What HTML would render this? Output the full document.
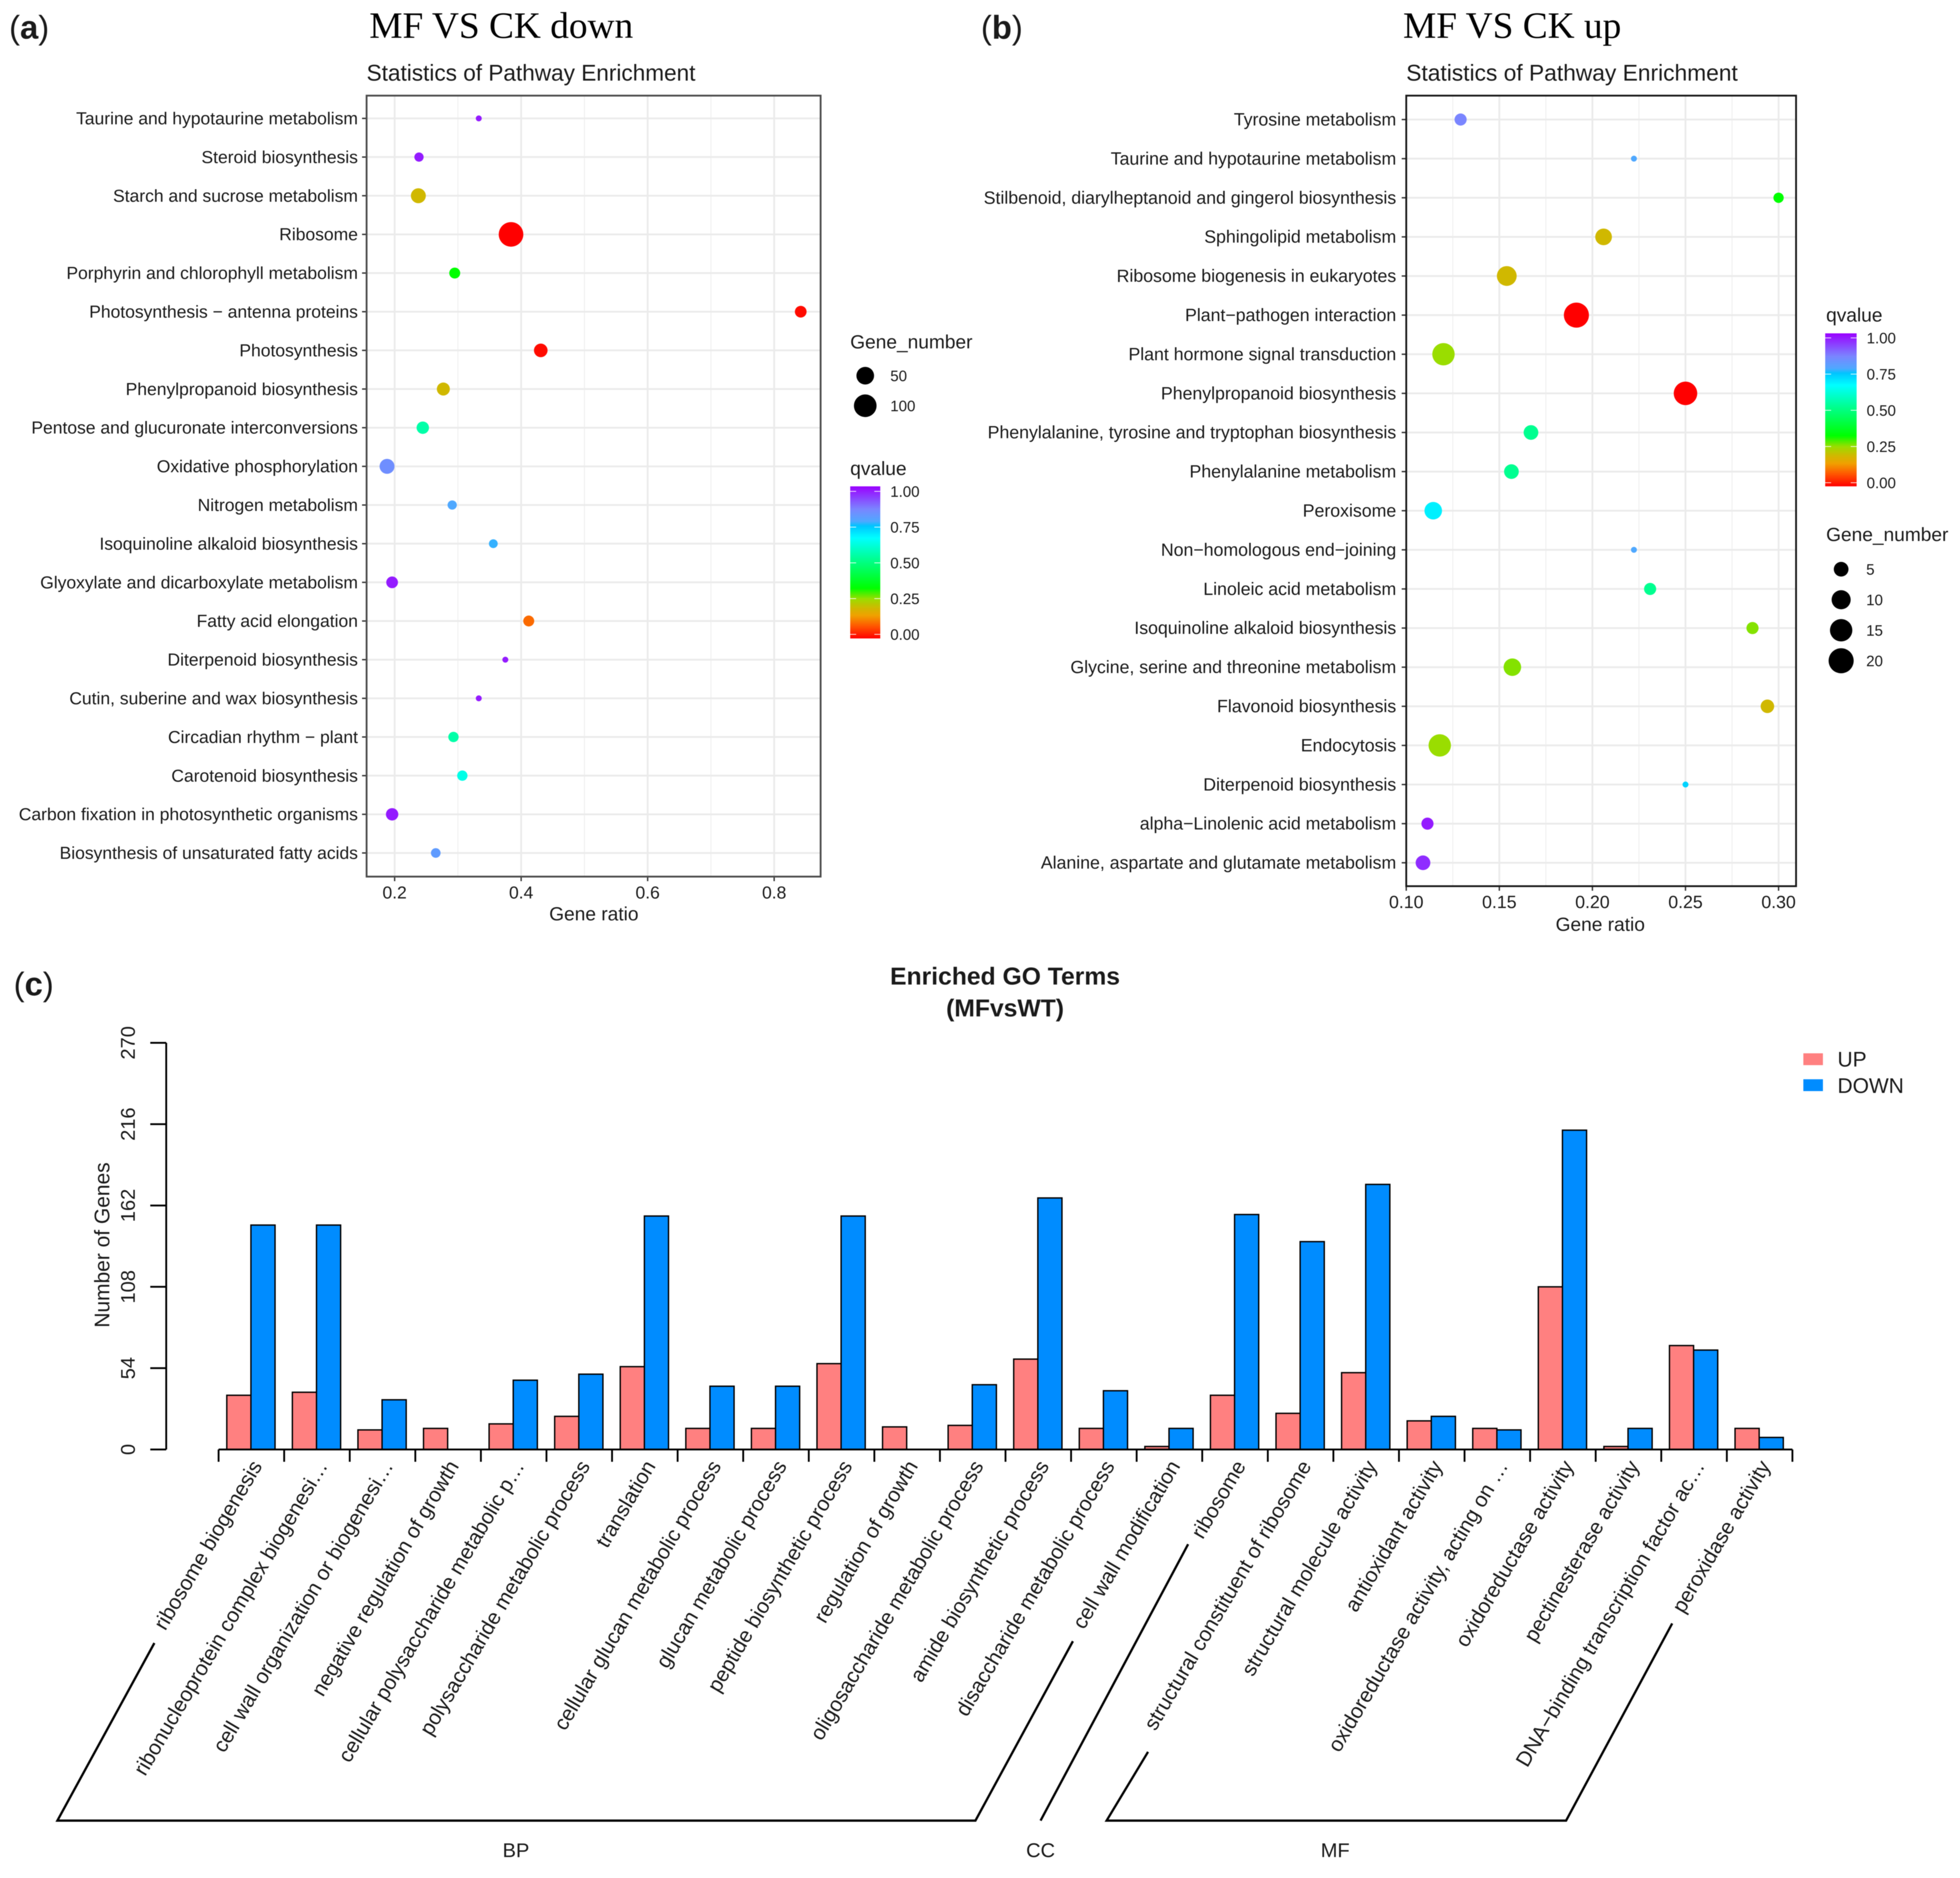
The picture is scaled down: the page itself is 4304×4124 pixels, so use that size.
<!DOCTYPE html>
<html lang="en">
<head>
<meta charset="utf-8">
<title>Pathway enrichment and GO terms</title>
<style>
html,body{margin:0;padding:0;background:#fff;}
svg{display:block;filter:blur(0.8px);}
text{font-family:"Liberation Sans",sans-serif;fill:#1a1a1a;}
.serif{font-family:"Liberation Serif",serif;fill:#000;}
</style>
</head>
<body>
<svg id="fig" xmlns="http://www.w3.org/2000/svg" width="4304" height="4124" viewBox="0 0 4304 4124">
<defs>
<linearGradient id="qgrad" x1="0" y1="1" x2="0" y2="0"></linearGradient>
</defs>
<rect x="0" y="0" width="4304" height="4124" fill="#fff"/>
<text x="20" y="85" font-size="72" fill="#000">(<tspan font-weight="bold">a</tspan>)</text>
<text x="2154" y="85" font-size="72" fill="#000">(<tspan font-weight="bold">b</tspan>)</text>
<text x="30" y="2186" font-size="72" fill="#000">(<tspan font-weight="bold">c</tspan>)</text>
<text class="serif" x="811" y="83" font-size="82">MF VS CK down</text>
<text class="serif" x="3081" y="83" font-size="82">MF VS CK up</text>
<text x="805" y="177" font-size="49.6">Statistics of Pathway Enrichment</text>
<text x="3088" y="177" font-size="50">Statistics of Pathway Enrichment</text>
<g id="panelA"></g>
<g id="panelB"></g>
<text x="1304" y="2021" font-size="42" text-anchor="middle">Gene ratio</text>
<text x="3514" y="2044" font-size="42" text-anchor="middle">Gene ratio</text>
<g id="legendA">
<text x="1867" y="765" font-size="42">Gene_number</text>
<text x="1867" y="1043" font-size="42">qvalue</text>
</g>
<g id="legendB">
<text x="4010" y="706" font-size="42">qvalue</text>
<text x="4010" y="1188" font-size="42">Gene_number</text>
</g>
<text x="2207" y="2162" font-size="54.2" font-weight="bold" text-anchor="middle">Enriched GO Terms</text>
<text x="2207" y="2232" font-size="54.2" font-weight="bold" text-anchor="middle">(MFvsWT)</text>
<text x="0" y="0" font-size="46" text-anchor="middle" transform="translate(240,2734) rotate(-90)">Number of Genes</text>
<g id="panelC"></g>
<g>
<rect x="3960" y="2313" width="43" height="26" fill="#ff8080"/>
<text x="4035" y="2342" font-size="46">UP</text>
<rect x="3960" y="2370" width="43" height="26" fill="#008cff"/>
<text x="4035" y="2400" font-size="46">DOWN</text>
</g>
<g fill="none" stroke="#000" stroke-width="5">
<polyline points="339,3608 126,3998 2142,3998 2356,3604"/>
<polyline points="2285,3998 2609,3391"/>
<polyline points="2521,3847 2430,3998 3439,3998 3672,3565"/>
</g>
<text x="1133" y="4078" font-size="44" text-anchor="middle">BP</text>
<text x="2285" y="4078" font-size="44" text-anchor="middle">CC</text>
<text x="2932" y="4078" font-size="44" text-anchor="middle">MF</text>
</svg>
<script>
// Panel (a) data
const aPathways = ["Taurine and hypotaurine metabolism","Steroid biosynthesis","Starch and sucrose metabolism","Ribosome","Porphyrin and chlorophyll metabolism","Photosynthesis − antenna proteins","Photosynthesis","Phenylpropanoid biosynthesis","Pentose and glucuronate interconversions","Oxidative phosphorylation","Nitrogen metabolism","Isoquinoline alkaloid biosynthesis","Glyoxylate and dicarboxylate metabolism","Fatty acid elongation","Diterpenoid biosynthesis","Cutin, suberine and wax biosynthesis","Circadian rhythm − plant","Carotenoid biosynthesis","Carbon fixation in photosynthetic organisms","Biosynthesis of unsaturated fatty acids"];
const aRatio = [0.333,0.2385,0.2375,0.384,0.295,0.842,0.431,0.277,0.2445,0.188,0.291,0.356,0.196,0.412,0.375,0.333,0.293,0.307,0.196,0.265];
const aGenes = [1,5,30,125,10,13,22,19,16,30,5,4,13,10,1,1,8,8,16,6];
const aQvalue = [0.97,0.97,0.2,0,0.33,0.01,0.01,0.2,0.55,0.83,0.77,0.76,0.97,0.1,0.97,0.97,0.55,0.63,0.97,0.8];
const aXTicks = [0.2,0.4,0.6,0.8];
const aXMinor = [0.3,0.5,0.7];
const aSizeLegend = [50,100];

// Panel (b) data
const bPathways = ["Tyrosine metabolism","Taurine and hypotaurine metabolism","Stilbenoid, diarylheptanoid and gingerol biosynthesis","Sphingolipid metabolism","Ribosome biogenesis in eukaryotes","Plant−pathogen interaction","Plant hormone signal transduction","Phenylpropanoid biosynthesis","Phenylalanine, tyrosine and tryptophan biosynthesis","Phenylalanine metabolism","Peroxisome","Non−homologous end−joining","Linoleic acid metabolism","Isoquinoline alkaloid biosynthesis","Glycine, serine and threonine metabolism","Flavonoid biosynthesis","Endocytosis","Diterpenoid biosynthesis","alpha−Linolenic acid metabolism","Alanine, aspartate and glutamate metabolism"];
const bRatio = [0.1292,0.2223,0.30,0.206,0.154,0.1914,0.12,0.25,0.167,0.1565,0.1145,0.2223,0.231,0.286,0.157,0.294,0.118,0.25,0.1114,0.109];
const bGenes = [3,1,2,7,11,20,15,17,5,5,8,1,3,3,8,4,15,1,3,5];
const bQvalue = [0.85,0.77,0.33,0.2,0.2,0,0.26,0,0.52,0.52,0.68,0.77,0.52,0.27,0.27,0.2,0.26,0.72,0.97,0.95];
const bXTicks = [0.10,0.15,0.20,0.25,0.30];
const bXMinor = [0.125,0.175,0.225,0.275];
const bSizeLegend = [5,10,15,20];

// Shared colour legend
const qTicks = [1.00,0.75,0.50,0.25,0.00];

// Panel (c) data
const goTerms = ["ribosome biogenesis","ribonucleoprotein complex biogenesi…","cell wall organization or biogenesi…","negative regulation of growth","cellular polysaccharide metabolic p…","polysaccharide metabolic process","translation","cellular glucan metabolic process","glucan metabolic process","peptide biosynthetic process","regulation of growth","oligosaccharide metabolic process","amide biosynthetic process","disaccharide metabolic process","cell wall modification","ribosome","structural constituent of ribosome","structural molecule activity","antioxidant activity","oxidoreductase activity, acting on …","oxidoreductase activity","pectinesterase activity","DNA−binding transcription factor ac…","peroxidase activity"];
const goUp = [36,38,13,14,17,22,55,14,14,57,15,16,60,14,2,36,24,51,19,14,108,2,69,14];
const goDown = [149,149,33,0,46,50,155,42,42,155,0,43,167,39,14,156,138,176,22,13,212,14,66,8];
const goYTicks = [0,54,108,162,216,270];

const NS = "http://www.w3.org/2000/svg";
function mk(tag, parent, attrs, text) {
  const n = document.createElementNS(NS, tag);
  for (const k in attrs) n.setAttribute(k, attrs[k]);
  if (text !== undefined) n.textContent = text;
  parent.appendChild(n);
  return n;
}

// Colour ramp
const rampPos = [0,0.08,0.15,0.20,0.26,0.33,0.5,0.66,0.74,0.77,0.85,1];
const rampCol = [[255,0,0],[255,85,0],[240,160,0],[208,184,0],[154,221,0],[0,255,0],[0,255,128],[0,255,255],[0,196,255],[79,168,255],[122,133,255],[154,0,255]];
function qColor(q) {
  let i = 0;
  while (i < rampPos.length - 2 && q > rampPos[i + 1]) i++;
  const t = Math.max(0, Math.min(1, (q - rampPos[i]) / (rampPos[i + 1] - rampPos[i])));
  const c = rampCol[i].map((v, j) => Math.round(v + (rampCol[i + 1][j] - v) * t));
  return "rgb(" + c.join(",") + ")";
}
const qg = document.getElementById("qgrad");
rampPos.forEach(function (p) {
  mk("stop", qg, { offset: p, "stop-color": qColor(p) });
});

function drawBubblePanel(root, cfg) {
  const nMax = Math.max.apply(null, cfg.genes);
  const xs = v => cfg.x0 + (v - cfg.v0) * cfg.xScale;
  const ys = i => cfg.rowTop + i * cfg.rowStep;
  cfg.minor.forEach(function (v) {
    const g = mk("line", root, { x1: xs(v), x2: xs(v), y1: cfg.top, y2: cfg.bottom, stroke: "#efefef", "stroke-width": 2 });
    
    
  });
  cfg.ticks.forEach(function (v) {
    const g = mk("line", root, { x1: xs(v), x2: xs(v), y1: cfg.top, y2: cfg.bottom, stroke: "#ebebeb", "stroke-width": 4 });
    
    
    const t = mk("line", root, { x1: xs(v), x2: xs(v), y1: cfg.bottom, y2: cfg.bottom + 10, stroke: "#333", "stroke-width": 3 });
    
    
    const l = mk("text", root, { x: xs(v), y: cfg.bottom + cfg.tickLabelDy, "font-size": cfg.font, "text-anchor": "middle" }, v.toFixed(cfg.digits));
    
    
  });
  cfg.names.forEach(function (name, i) {
    const g = mk("line", root, { x1: cfg.left, x2: cfg.right, y1: ys(i), y2: ys(i), stroke: "#ebebeb", "stroke-width": 4 });
    
    
    const t = mk("line", root, { x1: cfg.left - 10, x2: cfg.left, y1: ys(i), y2: ys(i), stroke: "#333", "stroke-width": 3 });
    
    
    const l = mk("text", root, { x: cfg.labelX, y: ys(i) + 13, "font-size": cfg.font, "text-anchor": "end" }, name);
    
    
  });
  const rScale = n => 6.5 + cfg.rSpan * Math.sqrt((n - 1) / (nMax - 1));
  cfg.names.forEach(function (name, i) {
    const c = mk("circle", root, { cx: xs(cfg.ratio[i]), cy: ys(i), r: rScale(cfg.genes[i]), fill: qColor(cfg.q[i]) });
    
    
  });
  const b = mk("rect", root, { x: cfg.left, y: cfg.top, width: cfg.right - cfg.left, height: cfg.bottom - cfg.top, fill: "none", stroke: cfg.border, "stroke-width": 4 });
  
  
  return rScale;
}

const rA = drawBubblePanel(document.getElementById("panelA"), {
  names: aPathways, ratio: aRatio, genes: aGenes, q: aQvalue, ticks: aXTicks, minor: aXMinor,
  x0: 866.6, v0: 0.2, xScale: 1389, left: 805, right: 1802, top: 210, bottom: 1925,
  rowTop: 260, rowStep: 84.9, labelX: 786, font: 38.4, tickLabelDy: 48, digits: 1, rSpan: 20.5, border: "#4d4d4d"
});
const rB = drawBubblePanel(document.getElementById("panelB"), {
  names: bPathways, ratio: bRatio, genes: bGenes, q: bQvalue, ticks: bXTicks, minor: bXMinor,
  x0: 3088, v0: 0.10, xScale: 4088, left: 3088, right: 3944, top: 210, bottom: 1946,
  rowTop: 262.5, rowStep: 85.9, labelX: 3066, font: 38.9, tickLabelDy: 48, digits: 2, rSpan: 21, border: "#1a1a1a"
});

function drawColorBar(root, x, top, bottom, yTop, yBottom, w, labelX) {
  const bar = mk("rect", root, { x: x, y: top, width: w, height: bottom - top, fill: "url(#qgrad)" });
  
  
  qTicks.forEach(function (v) {
    const y = yBottom + (yTop - yBottom) * v;
    const t1 = mk("line", root, { x1: x, x2: x + 13, y1: y, y2: y, stroke: "#fff", "stroke-width": 1.5 });
    
    
    const t2 = mk("line", root, { x1: x + w - 13, x2: x + w, y1: y, y2: y, stroke: "#fff", "stroke-width": 1.5 });
    
    
    const l = mk("text", root, { x: labelX, y: y + 12, "font-size": 33 }, v.toFixed(2));
    
    
  });
}
const legA = document.getElementById("legendA");
const legB = document.getElementById("legendB");
drawColorBar(legA, 1867, 1068, 1402, 1079, 1393, 66, 1955);
drawColorBar(legB, 4008, 732, 1068, 742, 1060, 69, 4099);

function drawSizeLegend(root, vals, rFn, cx, y0, step, labelX) {
  vals.forEach(function (v, i) {
    const y = y0 + i * step;
    const c = mk("circle", root, { cx: cx, cy: y, r: rFn(v), fill: "#000" });
    
    
    const l = mk("text", root, { x: labelX, y: y + 12, "font-size": 33 }, String(v));
    
    
  });
}
drawSizeLegend(legA, aSizeLegend, rA, 1900, 825, 66, 1955);
drawSizeLegend(legB, bSizeLegend, rB, 4043, 1250, 67, 4098);

// Panel (c)
(function () {
  const root = document.getElementById("panelC");
  const axisX0 = 480, groupW = 144, base = 3183, yAxisX = 365;
  const yScale = v => base - v * (893 / 270);
  const groupX = i => axisX0 + i * groupW;
  goTerms.forEach(function (term, i) {
    const x = groupX(i) + 18;
    const w = 53;
    if (goUp[i] > 0) {
      const u = mk("rect", root, { x: x, y: yScale(goUp[i]), width: w, height: base - yScale(goUp[i]), fill: "#ff8080", stroke: "#000", "stroke-width": 3 });
      
      
    }
    if (goDown[i] > 0) {
      const d = mk("rect", root, { x: x + w, y: yScale(goDown[i]), width: w, height: base - yScale(goDown[i]), fill: "#008cff", stroke: "#000", "stroke-width": 3 });
      
      
    }
    const lx = groupX(i) + groupW / 2 + 25;
    const ly = base + 36;
    const l = mk("text", root, { x: lx, y: ly, "font-size": 46, "text-anchor": "end", transform: "rotate(-59.5 " + lx + " " + ly + ")" }, term);
    
    
  });
  const xAxis = mk("line", root, { x1: axisX0, x2: groupX(goTerms.length), y1: base, y2: base, stroke: "#000", "stroke-width": 4 });
  
  
  for (let i = 0; i <= goTerms.length; i++) {
    const t = mk("line", root, { x1: groupX(i), x2: groupX(i), y1: base, y2: base + 27, stroke: "#000", "stroke-width": 4 });
    
    
  }
  const yAxis = mk("line", root, { x1: yAxisX, x2: yAxisX, y1: yScale(270), y2: base, stroke: "#000", "stroke-width": 4 });
  
  
  goYTicks.forEach(function (v) {
    const y = yScale(v);
    const t = mk("line", root, { x1: yAxisX - 35, x2: yAxisX, y1: y, y2: y, stroke: "#000", "stroke-width": 4 });
    
    
    const l = mk("text", root, { x: 0, y: 0, "font-size": 44, "text-anchor": "middle", transform: "translate(296," + y + ") rotate(-90)" }, String(v));
    
    
  });
})();
</script>
</body>
</html>
